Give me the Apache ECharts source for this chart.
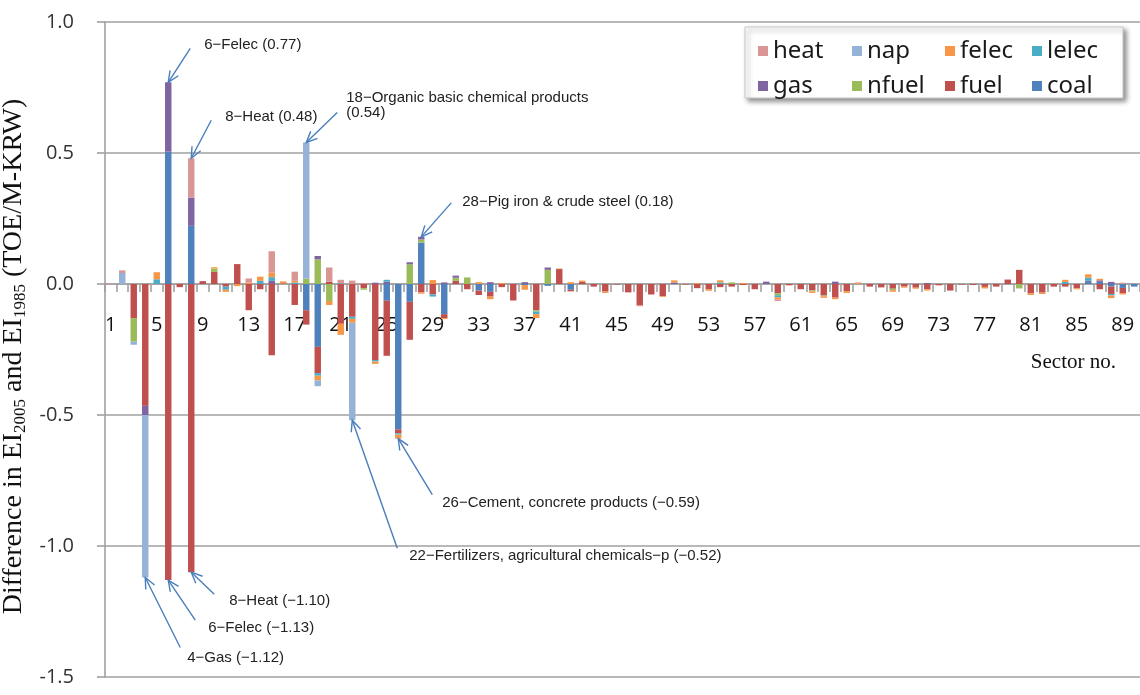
<!DOCTYPE html>
<html>
<head>
<meta charset="utf-8">
<script src="https://cdn.jsdelivr.net/npm/echarts@6/dist/echarts.min.js"></script>
<style>
  html, body { margin: 0; padding: 0; background: #ffffff; }
  #chart { width: 1140px; height: 695px; }
</style>
</head>
<body>
<div id="chart"></div>
<script>
// Sector numbers 1..90 on the category axis
const sectors = Array.from({ length: 90 }, (_, i) => String(i + 1));

// Y-axis ticks
const yTicks = [-1.5, -1.0, -0.5, 0.0, 0.5, 1.0];

// Change in energy intensity by source, per sector (TOE/M-KRW), sectors 1..90
const coal = [
  0, 0, 0, 0, 0, 0.505, 0, 0.222, 0, 0,
  0, 0, 0, 0, 0, 0, 0, -0.1, -0.24, 0,
  0, 0, 0, 0, -0.064, -0.555, -0.068, 0.158, 0, -0.115,
  0, 0, -0.025, -0.03, 0, 0, -0.004, 0, -0.007, 0,
  -0.022, 0, 0, 0, 0, 0, 0, 0, 0, 0,
  0, 0, 0, 0, 0, 0, 0, 0, 0, 0,
  0, 0, 0, 0, 0, 0, 0, 0, 0, 0,
  0, 0, 0, 0, 0, 0, 0, 0, 0, 0,
  0, 0, 0, 0, 0, 0.008, 0.008, -0.01, -0.015, -0.01
];
const fuel = [
  0, 0, -0.13, -0.465, 0, -1.13, -0.012, -1.10, 0.011, 0.046,
  -0.01, 0.076, -0.1, -0.02, -0.272, 0.002, -0.08, -0.055, -0.1, 0.009,
  -0.152, -0.125, -0.016, -0.29, -0.21, -0.015, -0.145, -0.032, -0.04, -0.015,
  0.012, -0.02, -0.017, -0.018, -0.012, -0.063, 0, -0.1, 0, 0.057,
  -0.006, 0.008, -0.01, -0.029, -0.002, -0.032, -0.082, -0.04, -0.046, 0,
  -0.002, -0.016, -0.02, -0.012, -0.01, -0.004, -0.02, 0, -0.035, -0.005,
  -0.02, -0.024, -0.044, -0.052, -0.027, 0, -0.01, -0.013, -0.018, -0.01,
  -0.014, -0.02, -0.005, -0.025, -0.002, -0.004, -0.011, -0.01, 0.017, 0.054,
  -0.036, -0.033, -0.01, -0.01, -0.016, 0, -0.02, -0.028, -0.02, 0
];
const nfuel = [
  0, 0, -0.09, 0, 0, 0, 0, 0, 0, 0.013,
  0, 0, 0, 0, 0, 0, 0, 0.02, 0.094, -0.065,
  0, 0, -0.006, 0, 0, 0, 0.075, 0.012, 0, 0,
  0.012, 0.025, 0, 0, 0, 0, 0, -0.005, 0.054, 0,
  0, 0, 0, 0, 0, 0, 0, 0, 0, 0,
  0, 0, 0, 0, 0.006, 0, 0, 0, -0.008, 0,
  0, -0.004, -0.003, 0, 0, 0, 0, 0, -0.006, 0,
  0, 0, 0, 0, 0, 0, 0, 0, 0, -0.017,
  0, 0, 0, 0, 0, 0, 0, 0, 0, 0
];
const gas = [
  0, 0, 0, -0.035, 0, 0.265, 0, 0.108, 0, 0,
  0, 0, 0, 0, 0.012, 0, 0, 0, 0.013, 0,
  0, 0, 0, 0.005, 0.009, 0, 0.008, 0.01, 0, 0.006,
  0.008, 0, 0, 0.007, 0, 0, 0.007, 0, 0.009, 0,
  0, 0, 0, 0, 0, 0, 0, 0, 0, 0.006,
  0, 0, 0, 0, 0, 0, 0, 0.009, 0, 0,
  0, 0, 0, 0.009, 0, 0, 0, 0, 0, 0,
  0, 0.004, 0, 0, 0, 0, 0, 0, 0, 0,
  0, 0, 0, 0, 0, 0.004, 0.006, 0.008, 0, 0
];
const lelec = [
  0, 0, 0, 0, 0.018, 0, 0, 0, 0, 0,
  -0.012, 0, 0, 0.012, 0.014, 0, 0.006, 0, -0.01, 0,
  0.003, -0.008, 0, -0.006, 0.007, -0.005, 0, 0, -0.008, 0,
  0, 0, 0, 0, 0, 0, 0, -0.01, 0, 0,
  0, 0, 0, 0, 0, 0, 0, 0, 0, 0,
  0, 0, 0, 0.006, 0, 0, 0, 0, -0.008, 0,
  0, 0, 0, 0, 0, 0, 0, 0, 0, 0,
  0, 0, 0, 0, 0, 0, 0, 0, 0, 0,
  0, 0, 0, 0.008, 0, 0.012, 0, -0.006, 0, 0
];
const felec = [
  0, 0, 0, 0, 0.027, 0, 0, 0, 0, 0.005,
  -0.008, -0.008, 0.005, 0.016, 0.017, 0.008, 0.006, 0, -0.018, -0.015,
  -0.042, -0.015, 0, -0.009, 0, -0.015, 0, -0.005, 0.015, -0.004,
  0, 0, 0.007, -0.01, 0.004, 0, -0.018, -0.015, 0, 0.002,
  0.007, 0.005, 0, -0.005, 0, 0, 0, 0, -0.003, 0.008,
  0, 0.003, -0.006, 0.008, 0, 0.004, 0, 0, -0.008, 0,
  0, -0.006, -0.006, -0.006, -0.007, 0.004, 0, 0, -0.006, -0.004,
  -0.004, -0.005, 0, 0, 0, 0, -0.006, 0, 0, 0,
  -0.006, -0.005, 0, 0.008, -0.004, 0.013, 0.006, -0.01, -0.005, 0
];
const nap = [
  0, 0.042, -0.012, -0.62, 0, 0, 0, 0, 0, 0,
  0, 0, 0, 0, 0, 0, 0, 0.52, -0.022, 0,
  0, -0.372, 0, 0, 0, 0, 0, 0, 0, 0,
  0, 0, 0, 0, 0, 0, 0, 0, 0, 0,
  0, 0, 0, 0, 0, 0, 0, 0, 0, 0,
  0, 0, 0, 0, 0, 0, 0, 0, 0, 0,
  0, 0, 0, 0, 0, 0, 0, 0, 0, 0,
  0, 0, 0, 0, 0, 0, 0, 0, 0, 0,
  0, 0, 0, 0, 0, 0, 0, 0, 0, 0
];
const heat = [
  0.003, 0.01, 0, 0, 0, 0, 0, 0.15, 0, 0,
  0, 0, 0.016, 0, 0.082, 0, 0.035, 0, 0, 0.054,
  0.013, 0.013, 0.004, 0, 0, 0, 0, 0, 0, 0,
  0, 0, 0, 0, 0, 0, 0, 0, 0, 0,
  0, 0, 0, 0, 0, 0, -0.003, 0, 0, 0,
  0, 0, 0, 0, 0, 0, 0, 0, -0.006, 0,
  0, 0, 0, 0, 0, 0.002, 0, 0, 0, 0,
  0, 0, 0, 0, 0, 0, 0, 0, 0, 0,
  0, 0, 0, 0, 0, 0, 0, 0, 0.005, 0
];

// Callouts: sector, stated value, text lines
const callouts = [
  { sector: 6,  value: 0.77,  lines: ['6\u2212Felec (0.77)'],                                tail: [22, -34], text: [36, -37] },
  { sector: 8,  value: 0.48,  lines: ['8\u2212Heat (0.48)'],                                 tail: [20, -38], text: [34, -41] },
  { sector: 18, value: 0.54,  lines: ['18\u2212Organic basic chemical products', '(0.54)'],  tail: [31, -30], text: [40, -45] },
  { sector: 28, value: 0.18,  lines: ['28\u2212Pig iron & crude steel (0.18)'],              tail: [30, -34], text: [41, -35] },
  { sector: 26, value: -0.59, lines: ['26\u2212Cement, concrete products (\u22120.59)'],     tail: [34, 56],  text: [44, 64] },
  { sector: 22, value: -0.52, lines: ['22\u2212Fertilizers, agricultural chemicals\u2212p (\u22120.52)'], tail: [45, 128], text: [57, 136] },
  { sector: 8,  value: -1.10, lines: ['8\u2212Heat (\u22121.10)'],                           tail: [23, 22],  text: [38, 29] },
  { sector: 6,  value: -1.13, lines: ['6\u2212Felec (\u22121.13)'],                          tail: [27, 40],  text: [40, 48] },
  { sector: 4,  value: -1.12, lines: ['4\u2212Gas (\u22121.12)'],                            tail: [35, 70],  text: [42, 80] }
];

const palette = {
  coal: '#4F81BD', fuel: '#C0504D', nfuel: '#9BBB59', gas: '#8064A2',
  lelec: '#4BACC6', felec: '#F79646', nap: '#95B3D7', heat: '#D99694'
};
// stacking order from the zero line outward
const stackOrder = [
  ['coal', coal], ['fuel', fuel], ['nfuel', nfuel], ['gas', gas],
  ['lelec', lelec], ['felec', felec], ['nap', nap], ['heat', heat]
];

// legend grid: two rows of four, in display order
const legendSlots = [
  ['heat', 758, 38], ['nap', 852, 38], ['felec', 945, 38], ['lelec', 1032, 38],
  ['gas', 758, 73],  ['nfuel', 852, 73], ['fuel', 945, 73], ['coal', 1032, 73]
];

const chart = echarts.init(document.getElementById('chart'), null, { renderer: 'canvas' });

const gridGray = '#a0a0a0';
const gridTop = 22, gridBottom = 18, chartHeight = 695;

// the category axis sits on the zero line: shift it up from the grid bottom
const plotHeight = chartHeight - gridTop - gridBottom;
const yMin = yTicks[0], yMax = yTicks[yTicks.length - 1];
const zeroShift = plotHeight * (0 - yMin) / (yMax - yMin);

chart.setOption({
  animation: false,
  backgroundColor: '#ffffff',
  grid: { left: 105, right: 0, top: gridTop, bottom: gridBottom, containLabel: false, outerBoundsMode: 'none' },
  legend: legendSlots.map(([name, x, y]) => ({
    data: [name],
    left: x, top: y,
    padding: 0,
    icon: 'rect',
    itemWidth: 10, itemHeight: 10,
    selectedMode: false,
    textStyle: { fontFamily: 'Noto Sans', fontSize: 24, color: '#1a1a1a', lineHeight: 26 }
  })),
  xAxis: {
    type: 'category',
    data: sectors,
    boundaryGap: true,
    position: 'bottom',
    offset: -zeroShift,
    axisLine: { onZero: false, lineStyle: { color: gridGray, width: 1.6 } },
    axisTick: { show: true, interval: 0, alignWithLabel: false, length: 8, lineStyle: { color: gridGray, width: 1.6 } },
    axisLabel: {
      interval: 3, margin: 31,
      fontFamily: 'Open Sans', fontSize: 20, color: '#111'
    },
    splitLine: { show: false }
  },
  yAxis: {
    type: 'value',
    min: yMin, max: yMax, interval: 0.5,
    axisLine: { show: true, lineStyle: { color: gridGray, width: 1.6 } },
    axisTick: { show: true, length: 8, lineStyle: { color: gridGray, width: 1.6 } },
    axisLabel: {
      margin: 31,
      fontFamily: 'Open Sans', fontSize: 20, color: '#333',
      formatter: v => (v < 0 ? '-' : '') + Math.abs(v).toFixed(1)
    },
    splitLine: { show: true, lineStyle: { color: gridGray, width: 1.6 } },
    name: '{a|Difference in EI}{s|2005}{a| and EI}{s|1985}{a| (TOE/M-KRW)}{p| }',
    nameLocation: 'middle',
    nameRotate: 90,
    nameGap: 70,
    nameTextStyle: {
      rich: {
        a: { fontFamily: 'Liberation Serif', fontSize: 28, color: '#111', lineHeight: 30, verticalAlign: 'middle' },
        s: { fontFamily: 'Liberation Serif', fontSize: 17, color: '#111', lineHeight: 17, verticalAlign: 'bottom' },
        p: { width: 14 }
      }
    }
  },
  series: stackOrder.map(([name, values]) => ({
    name,
    type: 'bar',
    stack: 'total',
    barWidth: '56%',
    itemStyle: { color: palette[name] },
    data: values
  }))
});

// legend frame, axis caption and callouts (anchored to the data points)
function buildOverlay() {
  const els = [];
  els.push({
    type: 'rect', z: 3,
    shape: { x: 745, y: 27, width: 378, height: 71 },
    style: {
      fill: '#ffffff', stroke: '#c8c8c8', lineWidth: 1,
      shadowBlur: 5, shadowOffsetX: 3, shadowOffsetY: 3, shadowColor: 'rgba(0,0,0,0.45)'
    }
  });
  els.push({
    type: 'text', z: 5,
    x: 1116, y: 362,
    style: {
      text: 'Sector no.', fontFamily: 'Liberation Serif', fontSize: 21, fill: '#111',
      align: 'right', verticalAlign: 'middle'
    }
  });
  const arrowColor = '#4a7ebb';
  callouts.forEach(c => {
    const [tx, ty] = chart.convertToPixel({ gridIndex: 0 }, [c.sector - 1, c.value]);
    const sx = tx + c.tail[0], sy = ty + c.tail[1];
    const ang = Math.atan2(sy - ty, sx - tx);
    const L = 12, spread = 0.42;
    const w1 = [tx + L * Math.cos(ang + spread), ty + L * Math.sin(ang + spread)];
    const w2 = [tx + L * Math.cos(ang - spread), ty + L * Math.sin(ang - spread)];
    els.push({
      type: 'line', z: 6,
      shape: { x1: sx, y1: sy, x2: tx, y2: ty },
      style: { stroke: arrowColor, lineWidth: 1.4 }
    });
    els.push({
      type: 'polyline', z: 6,
      shape: { points: [w1, [tx, ty], w2] },
      style: { stroke: arrowColor, lineWidth: 1.4, fill: null }
    });
    c.lines.forEach((line, i) => {
      els.push({
        type: 'text', z: 6,
        x: tx + c.text[0], y: ty + c.text[1] + i * 15,
        style: {
          text: line, fontFamily: 'Liberation Sans', fontSize: 15, fill: '#222',
          align: 'left', verticalAlign: 'middle'
        }
      });
    });
  });
  return els;
}

chart.setOption({ graphic: { elements: buildOverlay() } });
</script>
</body>
</html>
